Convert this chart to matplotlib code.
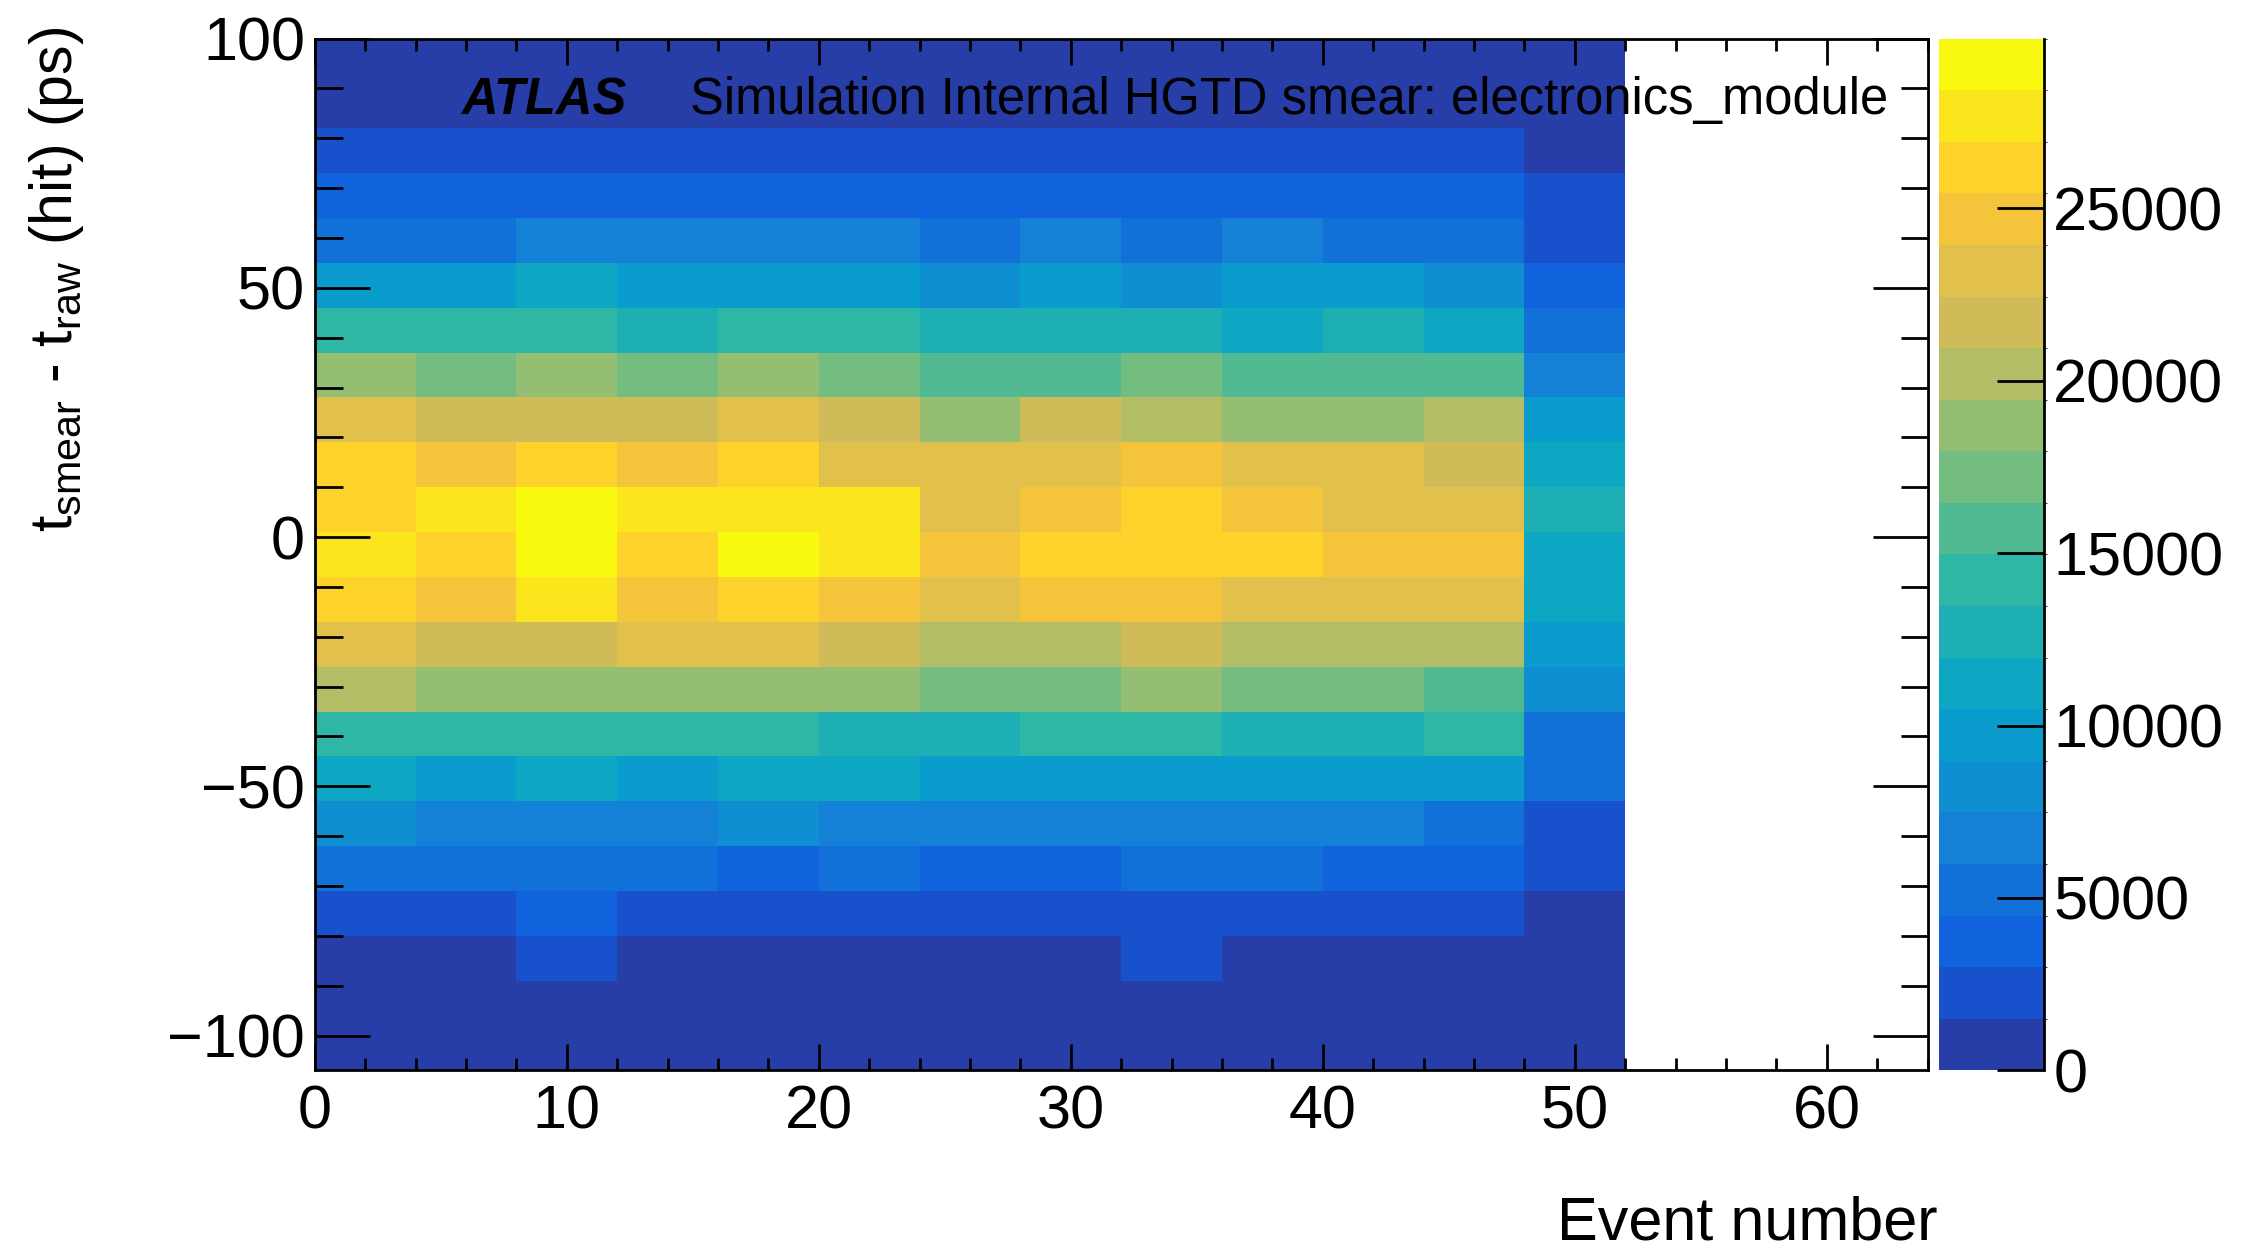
#!/usr/bin/env python3
# HGTD smear check: t_smear - t_raw vs event number, ROOT-style COLZ look
import numpy as np
import matplotlib
matplotlib.use("Agg")
import matplotlib.pyplot as plt
from matplotlib.colors import ListedColormap, BoundaryNorm
from matplotlib.ticker import MultipleLocator

plt.rcParams['font.family'] = ['Liberation Sans', 'DejaVu Sans']
plt.rcParams['mathtext.fontset'] = 'custom'
plt.rcParams['mathtext.rm'] = 'Liberation Sans'
plt.rcParams['mathtext.it'] = 'Liberation Sans:italic'
plt.rcParams['mathtext.default'] = 'regular'

# ---- histogram binning ----
event_edges = np.arange(0, 53, 4)    # 13 bins in event number
dt_edges = np.arange(-107, 101, 9)   # 23 bins of 9 ps

# ---- bin contents, top row (91..100 ps) first, columns = event bins ----
counts_top_down = [
  [310, 295, 320, 305, 290, 300, 315, 285, 300, 310, 295, 305, 260],
  [1050, 1020, 1080, 1060, 1010, 1040, 1070, 1030, 1050, 1020, 1060, 1040, 540],
  [2650, 2700, 2620, 2680, 2710, 2600, 2660, 2690, 2640, 2610, 2670, 2630, 1320],
  [4150, 4230, 4180, 4200, 4120, 4260, 4170, 4210, 4190, 4140, 4240, 4160, 2150],
  [5650, 5580, 6700, 6820, 6600, 6750, 5720, 6640, 5600, 6690, 5760, 5530, 2700],
  [9900, 10100, 10800, 9800, 10200, 10050, 8700, 9950, 8800, 10150, 9700, 8650, 4000],
  [14300, 14100, 14400, 13200, 14000, 14200, 12900, 13100, 12800, 11700, 13000, 11600, 5400],
  [18800, 17400, 18900, 17300, 18600, 17100, 16000, 15800, 17000, 15900, 16100, 15700, 6900],
  [23100, 21800, 21600, 21900, 23300, 21700, 18900, 21500, 20300, 19000, 18800, 20100, 9800],
  [26300, 24700, 26200, 24500, 26400, 23200, 23000, 23300, 24800, 23100, 22900, 21900, 11300],
  [26500, 27800, 29917, 27600, 27900, 27400, 23400, 24900, 26100, 24600, 23300, 23100, 12700],
  [27500, 26000, 29300, 26300, 29100, 27700, 24700, 26200, 26400, 26100, 24500, 24800, 11500],
  [26200, 24800, 27300, 24600, 26100, 24900, 23200, 24700, 24500, 23100, 23000, 23300, 11100],
  [23000, 21700, 21900, 22800, 23100, 21500, 20200, 20100, 21600, 20300, 20000, 20400, 9700],
  [20000, 18700, 18900, 18600, 18800, 18500, 17200, 17100, 18700, 17300, 17000, 16000, 8300],
  [14100, 14300, 14000, 14200, 14100, 12900, 12700, 14000, 14200, 12800, 12600, 14000, 5300],
  [11000, 9900, 11100, 9800, 10900, 11200, 9700, 9900, 9800, 10000, 9700, 9600, 5100],
  [8200, 6900, 6800, 7000, 8100, 6700, 6800, 6900, 6700, 6800, 6600, 5700, 2500],
  [5400, 5300, 5500, 5200, 4200, 5300, 4100, 4000, 5200, 5400, 4100, 4200, 2200],
  [2600, 2500, 3600, 2700, 2600, 2500, 2700, 2600, 2500, 2600, 2700, 2400, 1100],
  [1200, 1300, 2100, 1250, 1150, 1200, 1300, 1250, 2000, 1200, 1150, 1250, 600],
  [500, 480, 520, 510, 490, 470, 500, 510, 480, 500, 490, 505, 250],
  [180, 170, 190, 175, 185, 170, 180, 190, 175, 180, 170, 185, 90],
]
cbar_ticks = [0, 5000, 10000, 15000, 20000, 25000]

xlabel = "Event number"
ylabel = r"t$_{smear}$ - t$_{raw}$ (hit) (ps)"
atlas_label = "ATLAS"
extra_label = "Simulation Internal HGTD smear: electronics_module"

# ---- ROOT kBird palette, 20 contour levels ----
bird_stops = [0.0000, 0.1250, 0.2500, 0.3750, 0.5000, 0.6250, 0.7500, 0.8750, 1.0000]
bird_r = [0.2082, 0.0592, 0.0780, 0.0232, 0.1802, 0.5301, 0.8186, 0.9956, 0.9764]
bird_g = [0.1664, 0.3599, 0.5041, 0.6419, 0.7178, 0.7492, 0.7328, 0.7862, 0.9832]
bird_b = [0.5293, 0.8684, 0.8385, 0.7914, 0.6425, 0.4662, 0.3499, 0.1968, 0.0539]
ncont = 20
idx = ((np.arange(ncont) + 0.99) * 255 / ncont).astype(int)
pos = idx / 255.0
band_colors = np.column_stack([np.interp(pos, bird_stops, bird_r),
                               np.interp(pos, bird_stops, bird_g),
                               np.interp(pos, bird_stops, bird_b)])
cmap = ListedColormap(band_colors)


def main():
  counts = np.array(counts_top_down, dtype=float)[::-1]  # bottom row first
  levels = np.linspace(0, counts.max(), ncont + 1)
  norm = BoundaryNorm(levels, cmap.N)

  fig = plt.figure(figsize=(22.44, 12.49), dpi=100)
  ax = fig.add_axes([0.1403, 0.1430, 0.7187, 0.8261])
  mesh = ax.pcolormesh(event_edges, dt_edges, counts, cmap=cmap, norm=norm)

  ax.set_xlim(0, 64)
  ax.set_ylim(-107, 100)
  ax.xaxis.set_major_locator(MultipleLocator(10))
  ax.xaxis.set_minor_locator(MultipleLocator(2))
  ax.yaxis.set_major_locator(MultipleLocator(50))
  ax.yaxis.set_minor_locator(MultipleLocator(10))
  ax.tick_params(which='both', direction='in', top=True, right=True, width=2,
                 labelsize=44)
  ax.tick_params(axis='x', which='major', length=18.7, pad=10)
  ax.tick_params(axis='x', which='minor', length=8.6)
  ax.tick_params(axis='y', which='major', length=39.6, pad=7)
  ax.tick_params(axis='y', which='minor', length=19.8)
  for sp in ax.spines.values():
    sp.set_linewidth(2)

  ax.set_xlabel(xlabel, fontsize=44, loc='right')
  ax.xaxis.set_label_coords(1.0065, -0.121)
  ax.set_ylabel(ylabel, fontsize=42.5, loc='top')
  ax.yaxis.set_label_coords(-0.142, 1.011)

  ax.text(0.0905, 0.940, atlas_label, transform=ax.transAxes, fontsize=36.5,
          fontweight='bold', fontstyle='italic', va='center')
  ax.text(0.2325, 0.940, extra_label, transform=ax.transAxes, fontsize=36.5,
          va='center')

  # palette axis on the right
  cax = fig.add_axes([0.8641, 0.1430, 0.0466, 0.8261])
  cb = fig.colorbar(mesh, cax=cax, spacing='proportional')
  cb.outline.set_visible(False)
  cb.set_ticks(cbar_ticks)
  cb.set_ticklabels([str(t) for t in cbar_ticks])
  cax.tick_params(direction='in', length=34, width=2, labelsize=44, pad=7)
  cax.plot([1, 1], [0, 1], transform=cax.transAxes, color='k', lw=2,
           clip_on=False)

  fig.savefig("out.png", dpi=100)


if __name__ == "__main__":
  main()
